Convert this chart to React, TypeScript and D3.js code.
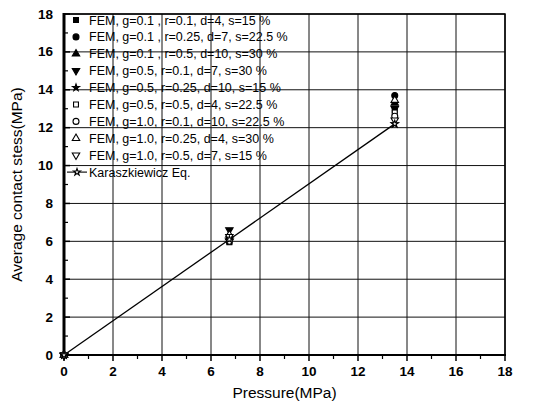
import * as d3 from 'd3';
import React from 'react';

// pressure levels (MPa)
const pressures = [0, 6.75, 13.5];

// FEM series: label, marker, filled, values at each pressure
const femLabels = [
  'FEM, g=0.1 , r=0.1, d=4, s=15 %',
  'FEM, g=0.1 , r=0.25, d=7, s=22.5 %',
  'FEM, g=0.1 , r=0.5, d=10, s=30 %',
  'FEM, g=0.5, r=0.1, d=7, s=30 %',
  'FEM, g=0.5, r=0.25, d=10, s=15 %',
  'FEM, g=0.5, r=0.5, d=4, s=22.5 %',
  'FEM, g=1.0, r=0.1, d=10, s=22.5 %',
  'FEM, g=1.0, r=0.25, d=4, s=30 %',
  'FEM, g=1.0, r=0.5, d=7, s=15 %',
];
const femMarkers = ['square', 'circle', 'up', 'down', 'star', 'square', 'circle', 'up', 'down'];
const femFilled = [true, true, true, true, true, false, false, false, false];
const femValues = [
  [0, 5.95, 12.9],
  [0, 6.1, 13.7],
  [0, 6.2, 13.3],
  [0, 6.6, 13.0],
  [0, 6.05, 12.2],
  [0, 6.15, 12.8],
  [0, 6.0, 12.6],
  [0, 6.35, 13.45],
  [0, 6.25, 12.4],
];

// Karaszkiewicz equation
const karLabel = 'Karaszkiewicz Eq.';
const karValues = [0, 6.1, 12.2];

const xTicks = [0, 2, 4, 6, 8, 10, 12, 14, 16, 18];
const yTicks = [0, 2, 4, 6, 8, 10, 12, 14, 16, 18];

const W = 550;
const H = 411;
const left = 64;
const right = 505;
const top = 14;
const bottom = 355;

function marker(kind: string, size: number) {
  const sym =
    kind === 'square' ? d3.symbolSquare :
    kind === 'circle' ? d3.symbolCircle :
    kind === 'star' ? d3.symbolStar :
    d3.symbolTriangle;
  return d3.symbol().type(sym).size(size)() as string;
}

function Marker({kind, filled, x, y}: {kind: string; filled: boolean; x: number; y: number}) {
  const size = kind === 'star' ? 15 : kind === 'circle' ? 28 : 24;
  const rot = kind === 'down' ? 180 : 0;
  return (
    <path
      d={marker(kind, size)}
      transform={`translate(${x},${y}) rotate(${rot})`}
      fill={filled ? '#000' : '#fff'}
      stroke="#000"
      strokeWidth={1.1}
    />
  );
}

export default function App() {
  const x = d3.scaleLinear().domain([0, 18]).range([left, right]);
  const y = d3.scaleLinear().domain([0, 18]).range([bottom, top]);

  const minorX = d3.range(1, 18, 2);
  const minorY = d3.range(1, 18, 2);

  const line = d3.line<number>()
    .x((_, i) => x(pressures[i]))
    .y(d => y(d));

  const legendX = 76;
  const legendY0 = 20;
  const legendStep = 16.9;

  return (
    <svg
      width={W}
      height={H}
      style={{position: 'absolute', left: 0, top: 0, background: '#fff'}}
      fontFamily="'Liberation Sans', Arial, sans-serif"
    >
      <rect x={0} y={0} width={W} height={H} fill="#fff" />

      {/* grid */}
      {xTicks.map(t => (
        <line key={'gx' + t} x1={x(t)} x2={x(t)} y1={top} y2={bottom} stroke="#111" strokeWidth={1} />
      ))}
      {yTicks.map(t => (
        <line key={'gy' + t} x1={left} x2={right} y1={y(t)} y2={y(t)} stroke="#111" strokeWidth={1} />
      ))}

      {/* frame */}
      <rect x={left} y={top} width={right - left} height={bottom - top} fill="none" stroke="#000" strokeWidth={1.5} />
      <line x1={left} x2={left} y1={top - 1} y2={bottom + 1} stroke="#000" strokeWidth={3} />
      <line x1={left - 1} x2={right + 1} y1={bottom} y2={bottom} stroke="#000" strokeWidth={2.2} />

      {/* x ticks */}
      {xTicks.map(t => (
        <g key={'xt' + t}>
          <line x1={x(t)} x2={x(t)} y1={bottom} y2={bottom + 6} stroke="#000" strokeWidth={1.5} />
          <text x={x(t)} y={bottom + 21} textAnchor="middle" fontSize={13.5} fontWeight="bold">{t}</text>
        </g>
      ))}
      {minorX.map(t => (
        <line key={'xm' + t} x1={x(t)} x2={x(t)} y1={bottom} y2={bottom + 4} stroke="#000" strokeWidth={1.2} />
      ))}

      {/* y ticks */}
      {yTicks.map(t => (
        <g key={'yt' + t}>
          <line x1={left} x2={left + 6} y1={y(t)} y2={y(t)} stroke="#000" strokeWidth={1.5} />
          <text x={left - 11} y={y(t) + 4.5} textAnchor="end" fontSize={13.5} fontWeight="bold">{t}</text>
        </g>
      ))}
      {minorY.map(t => (
        <line key={'ym' + t} x1={left} x2={left + 4} y1={y(t)} y2={y(t)} stroke="#000" strokeWidth={1.2} />
      ))}

      {/* axis titles */}
      <text x={(left + right) / 2} y={398} textAnchor="middle" fontSize={15.5}>Pressure(MPa)</text>
      <text
        transform={`translate(22,${(top + bottom) / 2}) rotate(-90)`}
        textAnchor="middle"
        fontSize={15.5}
      >
        Average contact stess(MPa)
      </text>

      {/* Karaszkiewicz line */}
      <path d={line(karValues) as string} fill="none" stroke="#000" strokeWidth={1.3} />

      {/* FEM points */}
      {femValues.map((vals, si) =>
        vals.map((v, i) => (
          <Marker key={`p${si}-${i}`} kind={femMarkers[si]} filled={femFilled[si]} x={x(pressures[i])} y={y(v)} />
        ))
      )}
      {karValues.map((v, i) => (
        <Marker key={'k' + i} kind="star" filled={false} x={x(pressures[i])} y={y(v)} />
      ))}

      {/* legend */}
      {femLabels.map((lab, i) => (
        <g key={'lg' + i} transform={`translate(${legendX},${legendY0 + i * legendStep})`}>
          <Marker kind={femMarkers[i]} filled={femFilled[i]} x={0} y={0} />
          <text x={13} y={4.5} fontSize={12.5}>{lab}</text>
        </g>
      ))}
      <g transform={`translate(${legendX},${legendY0 + 9 * legendStep})`}>
        <line x1={-9} x2={11} y1={0} y2={0} stroke="#000" strokeWidth={1.1} />
        <Marker kind="star" filled={false} x={1} y={0} />
        <text x={13} y={4.5} fontSize={12.5}>{karLabel}</text>
      </g>
    </svg>
  );
}
